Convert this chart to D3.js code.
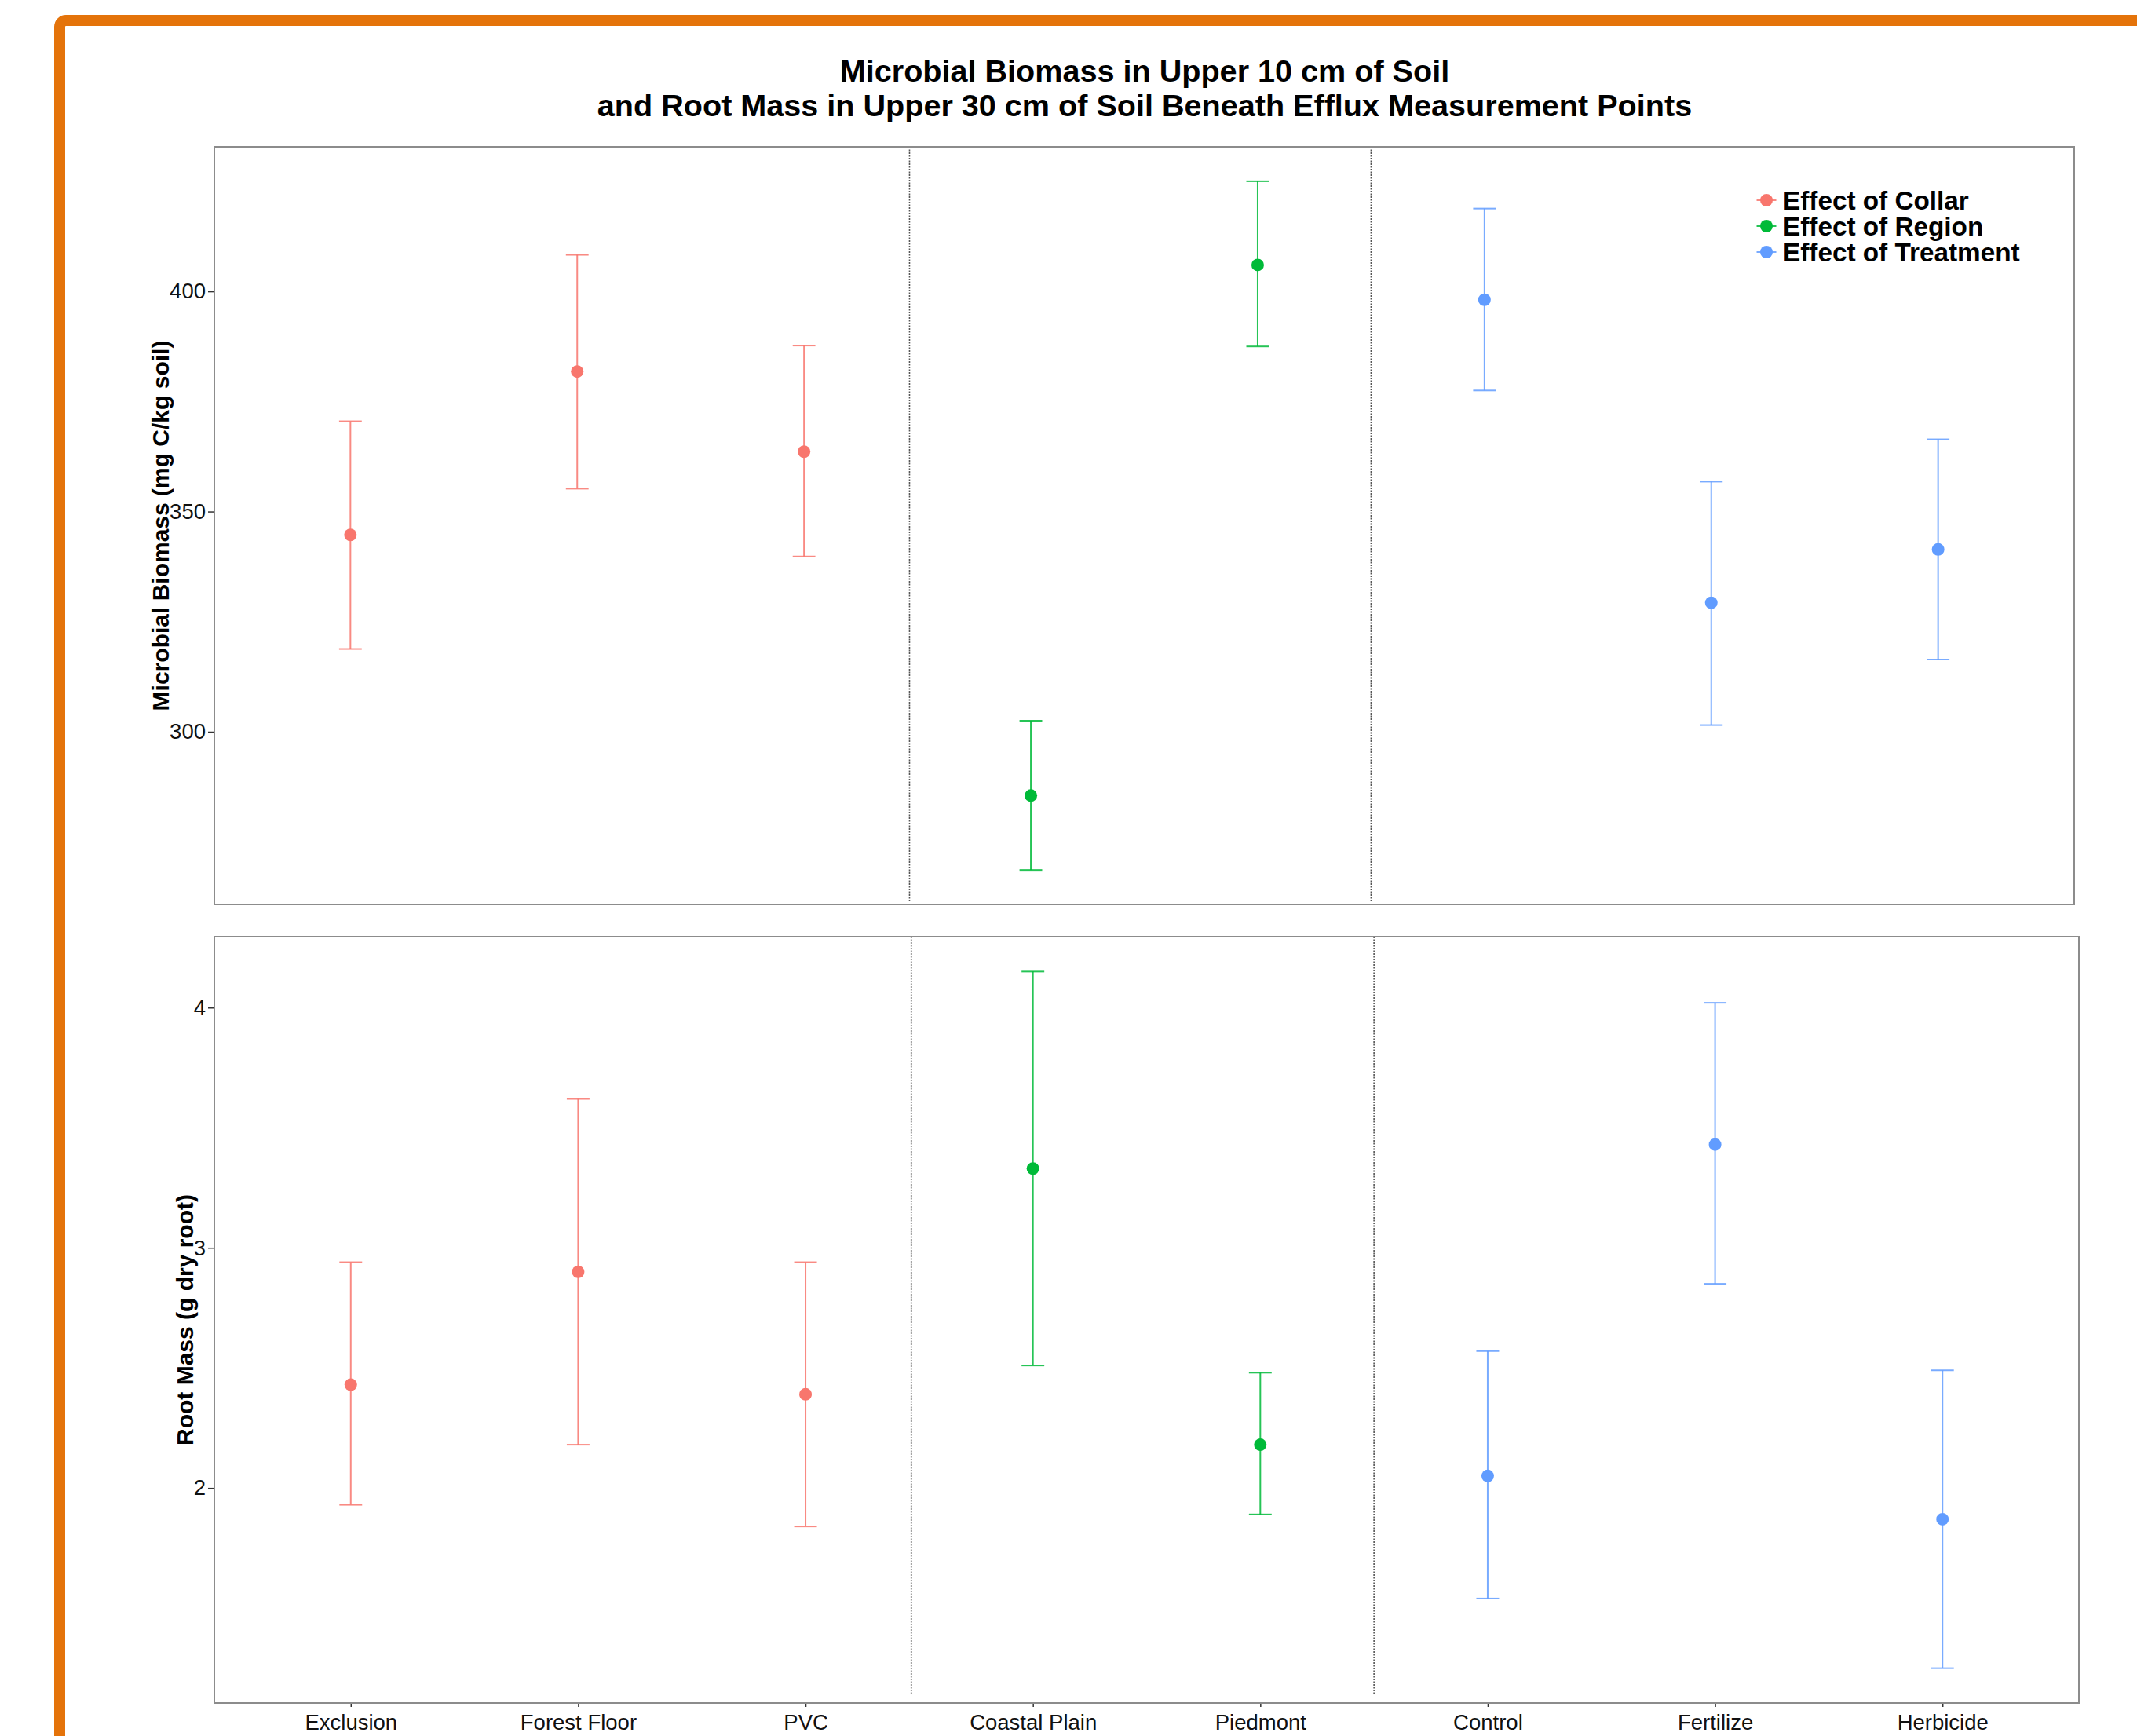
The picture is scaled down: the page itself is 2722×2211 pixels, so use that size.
<!DOCTYPE html>
<html>
<head>
<meta charset="utf-8">
<script src="https://cdn.jsdelivr.net/npm/d3@7"></script>
<style>
  html, body { margin: 0; padding: 0; background: #fff; }
  svg { display: block; font-family: "Liberation Sans", Arial, sans-serif; }
</style>
</head>
<body>
<svg id="chart" width="2722" height="2211"></svg>
<script>
// Treatment levels along the x axis and the effect group each belongs to
const categories = ["Exclusion", "Forest Floor", "PVC", "Coastal Plain", "Piedmont", "Control", "Fertilize", "Herbicide"];
const groupOf = ["Collar", "Collar", "Collar", "Region", "Region", "Treatment", "Treatment", "Treatment"];

// Microbial biomass, upper 10 cm (mg C/kg soil): mean and interval limits
const biomassMean = [344.7, 381.8, 363.6, 285.5, 406.0, 398.1, 329.3, 341.4];
const biomassLow  = [318.8, 355.2, 339.8, 268.6, 387.5, 377.5, 301.5, 316.4];
const biomassHigh = [370.5, 408.3, 387.7, 302.5, 425.0, 418.8, 356.8, 366.4];

// Root mass, upper 30 cm (g dry root): mean and interval limits
const rootMean = [2.43, 2.90, 2.39, 3.33, 2.18, 2.05, 3.43, 1.87];
const rootLow  = [1.93, 2.18, 1.84, 2.51, 1.89, 1.54, 2.85, 1.25];
const rootHigh = [2.94, 3.62, 2.94, 4.15, 2.48, 2.57, 4.02, 2.49];

const biomassTicks = [300, 350, 400];
const rootTicks = [2, 3, 4];

const legendGroups = ["Collar", "Region", "Treatment"];
const legendLabels = ["Effect of Collar", "Effect of Region", "Effect of Treatment"];
const groupColors = ["#F8766D", "#00BA38", "#619CFF"];

// Dividers between the collar / region / treatment blocks (category index units)
const groupBoundaries = [2.465, 4.5];

const titleLines = [
  "Microbial Biomass in Upper 10 cm of Soil",
  "and Root Mass in Upper 30 cm of Soil Beneath Efflux Measurement Points"
];

const svg = d3.select("#chart");
const color = d3.scaleOrdinal(legendGroups, groupColors);

// Orange frame around the figure
svg.append("rect")
  .attr("x", 76).attr("y", 26)
  .attr("width", 2660).attr("height", 2300)
  .attr("rx", 8)
  .attr("fill", "#fff")
  .attr("stroke", "#E4730A")
  .attr("stroke-width", 14);

// Title
svg.append("g").selectAll("text")
  .data(titleLines)
  .join("text")
  .attr("x", 1458)
  .attr("y", (d, i) => 104 + i * 43.5)
  .attr("text-anchor", "middle")
  .attr("font-size", 39.6)
  .attr("font-weight", "bold")
  .attr("fill", "#000")
  .text(d => d);

function drawPanel(opts) {
  const { left, right, top, bottom, mean, low, high, ticks, yTitle, yTitleX, showX, sepInset } = opts;
  const n = categories.length;
  const lo = d3.min(low), hi = d3.max(high), pad = (hi - lo) * 0.05;
  const y = d3.scaleLinear().domain([lo - pad, hi + pad]).range([bottom, top]);
  const x = d3.scalePoint().domain(categories).range([left, right]).padding(0.6);
  const xi = d3.scaleLinear().domain([-0.6, n - 1 + 0.6]).range([left, right]);
  const capHalf = x.step() * 0.05;

  const g = svg.append("g");

  // group dividers
  g.selectAll("line.sep")
    .data(groupBoundaries)
    .join("line")
    .attr("class", "sep")
    .attr("x1", d => xi(d)).attr("x2", d => xi(d))
    .attr("y1", top).attr("y2", bottom - sepInset)
    .attr("stroke", "#555")
    .attr("stroke-width", 1.6)
    .attr("stroke-dasharray", "2,1.5");

  // y axis
  const ya = g.append("g")
    .attr("transform", `translate(${left},0)`)
    .call(d3.axisLeft(y).tickValues(ticks).tickFormat(d3.format("d")).tickSize(8).tickPadding(3));
  ya.select(".domain").remove();
  ya.selectAll(".tick line").attr("stroke", "#333").attr("stroke-width", 1.5);
  ya.selectAll(".tick text")
    .attr("font-size", 27.5)
    .attr("font-family", "Liberation Sans, Arial, sans-serif")
    .attr("fill", "#111");

  // x axis on the lower panel only
  if (showX) {
    const xa = g.append("g")
      .attr("transform", `translate(0,${bottom})`)
      .call(d3.axisBottom(x).tickSize(5).tickPadding(9));
    xa.select(".domain").remove();
    xa.selectAll(".tick line").attr("stroke", "#333").attr("stroke-width", 1.5);
    xa.selectAll(".tick text")
      .attr("font-size", 27.5)
      .attr("font-family", "Liberation Sans, Arial, sans-serif")
      .attr("fill", "#111");
  }

  // y axis title
  g.append("text")
    .attr("transform", `translate(${yTitleX},${(top + bottom) / 2}) rotate(-90)`)
    .attr("text-anchor", "middle")
    .attr("dy", "0.35em")
    .attr("font-size", 30)
    .attr("font-weight", "bold")
    .attr("fill", "#000")
    .text(yTitle);

  const idx = d3.range(n);

  // error bars
  const eb = g.append("g").attr("stroke-width", 2).attr("fill", "none").attr("stroke-opacity", 0.85);
  eb.selectAll("line.stem").data(idx).join("line")
    .attr("class", "stem")
    .attr("x1", i => x(categories[i])).attr("x2", i => x(categories[i]))
    .attr("y1", i => y(low[i])).attr("y2", i => y(high[i]))
    .attr("stroke", i => color(groupOf[i]));
  eb.selectAll("line.capHi").data(idx).join("line")
    .attr("class", "capHi")
    .attr("x1", i => x(categories[i]) - capHalf).attr("x2", i => x(categories[i]) + capHalf)
    .attr("y1", i => y(high[i])).attr("y2", i => y(high[i]))
    .attr("stroke", i => color(groupOf[i]));
  eb.selectAll("line.capLo").data(idx).join("line")
    .attr("class", "capLo")
    .attr("x1", i => x(categories[i]) - capHalf).attr("x2", i => x(categories[i]) + capHalf)
    .attr("y1", i => y(low[i])).attr("y2", i => y(low[i]))
    .attr("stroke", i => color(groupOf[i]));

  // means
  g.selectAll("circle.pt").data(idx).join("circle")
    .attr("class", "pt")
    .attr("cx", i => x(categories[i]))
    .attr("cy", i => y(mean[i]))
    .attr("r", 8)
    .attr("fill", i => color(groupOf[i]));

  // panel border
  g.append("rect")
    .attr("x", left).attr("y", top)
    .attr("width", right - left).attr("height", bottom - top)
    .attr("fill", "none")
    .attr("stroke", "#8c8c8c")
    .attr("stroke-width", 2);

  return g;
}

drawPanel({
  left: 273, right: 2642, top: 187, bottom: 1152,
  mean: biomassMean, low: biomassLow, high: biomassHigh,
  ticks: biomassTicks, yTitle: "Microbial Biomass (mg C/kg soil)", yTitleX: 204,
  showX: false, sepInset: 3
});

drawPanel({
  left: 273, right: 2648, top: 1193, bottom: 2169,
  mean: rootMean, low: rootLow, high: rootHigh,
  ticks: rootTicks, yTitle: "Root Mass (g dry root)", yTitleX: 235,
  showX: true, sepInset: 12
});

// Legend
const legend = svg.append("g");
const rows = legend.selectAll("g").data(legendGroups).join("g")
  .attr("transform", (d, i) => `translate(2250,${255 + i * 33})`);
rows.append("line")
  .attr("x1", -12.5).attr("x2", 12.5)
  .attr("stroke", d => color(d))
  .attr("stroke-width", 2)
  .attr("stroke-opacity", 0.85);
rows.append("circle")
  .attr("r", 8)
  .attr("fill", d => color(d));
rows.append("text")
  .data(legendLabels)
  .attr("x", 21)
  .attr("dy", "0.36em")
  .attr("font-size", 33.3)
  .attr("font-weight", "bold")
  .attr("fill", "#000")
  .text(d => d);
</script>
</body>
</html>
